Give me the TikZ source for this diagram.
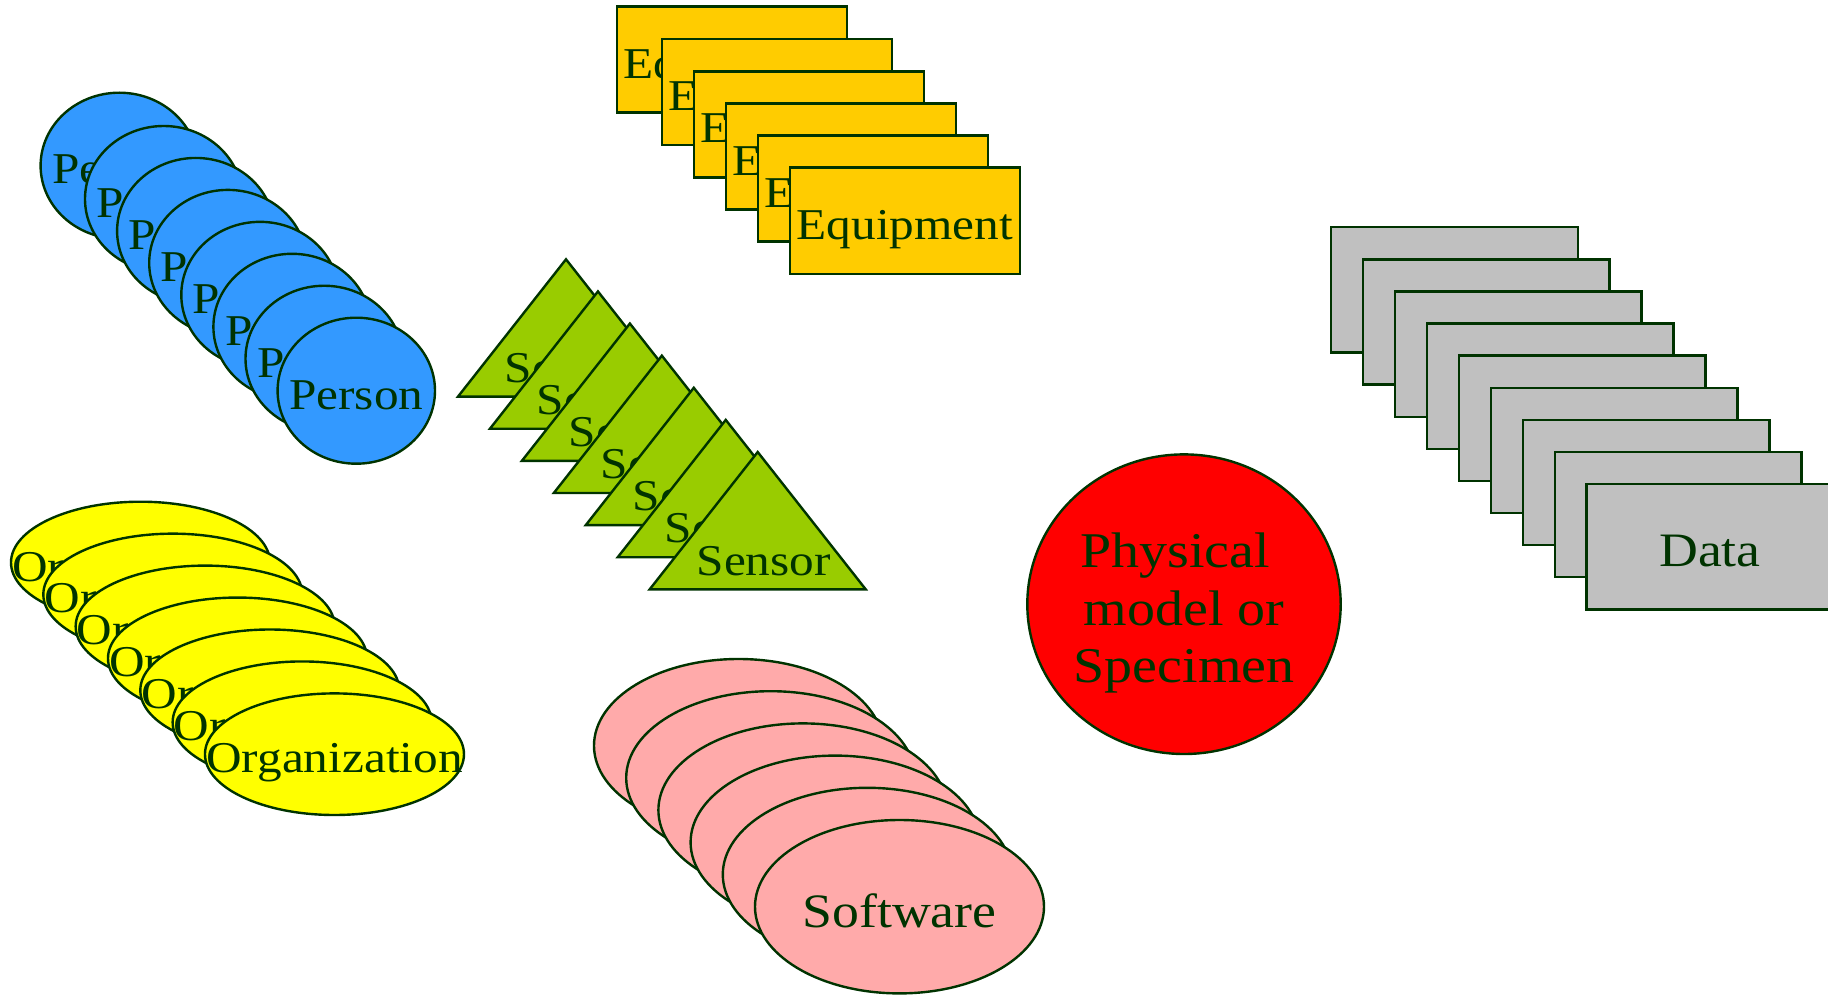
\documentclass[tikz,border=0pt]{standalone}
\usepackage{fontspec}
\usetikzlibrary{shapes.geometric}
\setmainfont{Liberation Serif}[FakeStretch=1.12]
\definecolor{ink}{HTML}{003300}
\definecolor{personblue}{HTML}{3399FF}
\definecolor{equipgold}{HTML}{FFCC00}
\definecolor{sensorgreen}{HTML}{99CC00}
\definecolor{orgyellow}{HTML}{FFFF00}
\definecolor{softpink}{HTML}{FFAAAA}
\definecolor{datagray}{HTML}{C0C0C0}
\definecolor{specred}{HTML}{FF0000}
\tikzset{
  outline/.style={draw=ink, line width=1.2pt, inner sep=0pt},
  personshape/.style={outline, ellipse, fill=personblue, minimum width=78.7pt, minimum height=73pt},
  equipshape/.style={outline, rectangle, fill=equipgold, minimum width=115pt, minimum height=53pt},
  sensorshape/.style={draw=ink, line width=1.2pt, line join=miter, fill=sensorgreen},
  orgshape/.style={outline, ellipse, fill=orgyellow, minimum width=129.5pt, minimum height=60.8pt},
  softshape/.style={outline, ellipse, fill=softpink, minimum width=144.5pt, minimum height=86.7pt},
  datashape/.style={outline, rectangle, fill=datagray, minimum width=123.35pt, minimum height=62.65pt},
  specshape/.style={outline, ellipse, fill=specred, minimum width=156.7pt, minimum height=149.8pt},
  lbl/.style={text=ink, inner sep=0pt, anchor=base, font=\fontsize{22}{26}\selectfont},
  biglbl/.style={lbl, font=\fontsize{24}{28}\selectfont},
  speclbl/.style={lbl, font=\fontsize{25}{29}\selectfont},
}
\begin{document}
\begin{tikzpicture}[x=0.5pt, y=-0.5pt]
\useasboundingbox (0,0) rectangle (1828,995);
\clip (0,0) rectangle (1828,995);

% Person stack
\node[personshape] (per0) at (119.3,165.7) {};
\node[lbl] (perlbl0) at (119.3,183.3) {Person};
\foreach \k [evaluate=\k as \cx using 163.7+32.1*\k,
             evaluate=\k as \cy using 199+31.95*\k] in {0,...,6} {
  \node[personshape] (per\k) at (\cx,\cy) {};
  \node[lbl] (perlbl\k) at (\cx,\cy+18.6) {Person};
}

% Equipment stack
\node[equipshape] (eqa) at (731.7,59.7) {};
\node[lbl] (eqalbl) at (731.7,78.3) {Equipment};
\foreach \k [evaluate=\k as \cx using 776.7+32.07*\k,
             evaluate=\k as \cy using 92.3+32.1*\k] in {0,...,4} {
  \node[equipshape] (eq\k) at (\cx,\cy) {};
  \node[lbl] (eqlbl\k) at (\cx,\cy+18.6) {Equipment};
}

% Sensor stack
\foreach \k [evaluate=\k as \ax using 566+31.95*\k,
             evaluate=\k as \ay using 259.3+32.12*\k] in {0,...,6} {
  \coordinate (sen\k) at (\ax,\ay);
  \draw[sensorshape] (sen\k) -- ++(-108,137.3) -- ++(216,0) -- cycle;
  \node[lbl] (senlbl\k) at (\ax+6,\ay+123) {Sensor};
}

% Organization stack
\foreach \k [evaluate=\k as \cx using 140.5+32.33*\k,
             evaluate=\k as \cy using 562.5+31.95*\k] in {0,...,6} {
  \node[orgshape] (org\k) at (\cx,\cy) {};
  \node[lbl] (orglbl\k) at (\cx,\cy+18.5) {Organization};
}

% Software stack
\foreach \k [evaluate=\k as \cx using 738.5+32.2*\k,
             evaluate=\k as \cy using 745.7+32.2*\k] in {0,...,5} {
  \node[softshape] (sw\k) at (\cx,\cy) {};
  \node[biglbl] (swlbl\k) at (\cx,\cy+20.6) {Software};
}

% Physical model or specimen
\node[specshape] (spec) at (1184,604.2) {};
\node[speclbl] (spec1) at (1175,567.7) {Physical};
\node[speclbl] (spec2) at (1184,625) {model or};
\node[speclbl] (spec3) at (1184,682.7) {Specimen};

% Data stack
\foreach \k [evaluate=\k as \cx using 1454.35+31.96*\k,
             evaluate=\k as \cy using 289.95+32.09*\k] in {0,...,8} {
  \node[datashape] (dat\k) at (\cx,\cy) {};
}
\node[biglbl] (datlbl) at (1710,566.7) {Data};
\end{tikzpicture}
\end{document}
